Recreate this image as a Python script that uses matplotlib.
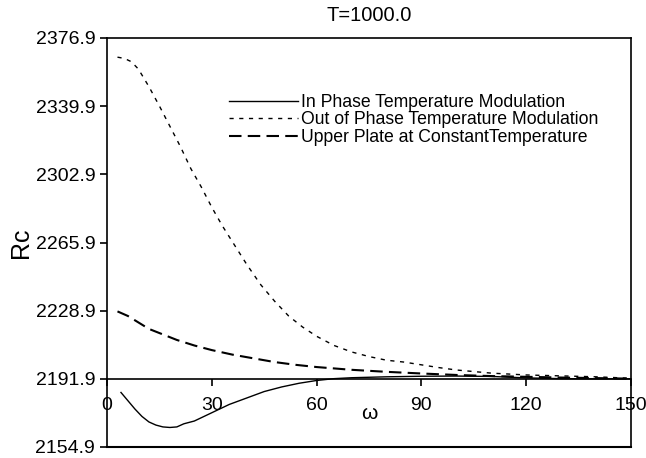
import numpy as np
import matplotlib
matplotlib.use("Agg")
import matplotlib.pyplot as plt

plt.rcParams['font.family'] = ['Liberation Sans', 'DejaVu Sans']

# in phase temperature modulation
w_in = [4, 6, 8, 10, 12, 14, 16, 18, 20, 22, 25, 30, 35, 40, 45, 50, 55, 60,
        65, 70, 80, 90, 100, 110, 120, 130, 140, 150]
rc_in = [2184.5, 2180, 2175.5, 2171.5, 2168.5, 2166.8, 2165.8, 2165.5, 2165.8,
         2167.5, 2169, 2173.5, 2178, 2181.5, 2185, 2187.5, 2189.5, 2191,
         2192, 2192.5, 2193, 2193.3, 2193.4, 2193.2, 2192.4, 2192, 2191.9, 2191.9]

# out of phase temperature modulation
w_out = [3, 5, 7, 9, 12, 15, 18, 21, 24, 27, 30, 33, 36, 40, 44, 48, 52, 56,
         60, 65, 70, 75, 80, 85, 90, 95, 100, 110, 120, 130, 140, 150]
rc_out = [2366.5, 2365.8, 2364, 2360, 2350.5, 2340, 2329, 2318, 2306, 2296,
          2285, 2275, 2266, 2254, 2243, 2234, 2226, 2220, 2215, 2210, 2206.5,
          2204, 2202, 2201, 2199.5, 2198, 2196.7, 2195, 2194, 2193.5, 2193, 2192.2]

# upper plate at constant temperature
w_const = [3, 6, 9, 12, 16, 20, 25, 30, 36, 42, 48, 54, 60, 70, 80, 90, 100,
           110, 120, 130, 140, 150]
rc_const = [2228.5, 2226, 2222.5, 2219, 2216, 2213, 2210, 2207.5, 2205, 2203,
            2201, 2199.5, 2198.3, 2196.8, 2195.7, 2194.8, 2194, 2193.4, 2193,
            2192.6, 2192.3, 2192]

y_ticks = [2154.9, 2191.9, 2228.9, 2265.9, 2302.9, 2339.9, 2376.9]
x_ticks = [0, 30, 60, 90, 120, 150]

fig = plt.figure(figsize=(6.46, 4.58), dpi=100)
ax = fig.add_axes([107 / 646, 11 / 458, 524 / 646, 409 / 458])

ax.plot(w_in, rc_in, color='black', lw=1.0, ls='-',
        label='In Phase Temperature Modulation')
ax.plot(w_out, rc_out, color='black', lw=1.0, ls=(0, (3, 4)),
        label='Out of Phase Temperature Modulation')
ax.plot(w_const, rc_const, color='black', lw=1.5, ls=(0, (6, 3)),
        label='Upper Plate at ConstantTemperature')

ax.set_xlim(0, 150)
ax.set_ylim(2154.9, 2376.9)
ax.set_yticks(y_ticks)
ax.set_yticklabels(['%.1f' % v for v in y_ticks])
ax.set_xticks(x_ticks)

ax.spines['bottom'].set_position(('data', 2191.9))
ax.axhline(2154.9, color='black', lw=1.5, clip_on=False)
for s in ['left', 'right', 'top', 'bottom']:
    ax.spines[s].set_linewidth(1.2)

ax.tick_params(axis='both', direction='out', length=5, width=1.2, labelsize=14)
ax.tick_params(axis='x', pad=8)

ax.set_title('T=1000.0', fontsize=14.5, pad=12)
ax.set_ylabel('Rc', fontsize=18, labelpad=2)
ax.set_xlabel('ω', fontsize=15)
ax.xaxis.set_label_coords(0.5, 0.105)

ax.legend(loc='upper left', bbox_to_anchor=(0.22, 0.88), frameon=False,
          fontsize=12.7, handlelength=3.9, handletextpad=0.15, labelspacing=0.02,
          borderaxespad=0)

fig.savefig('out.png', dpi=100)
